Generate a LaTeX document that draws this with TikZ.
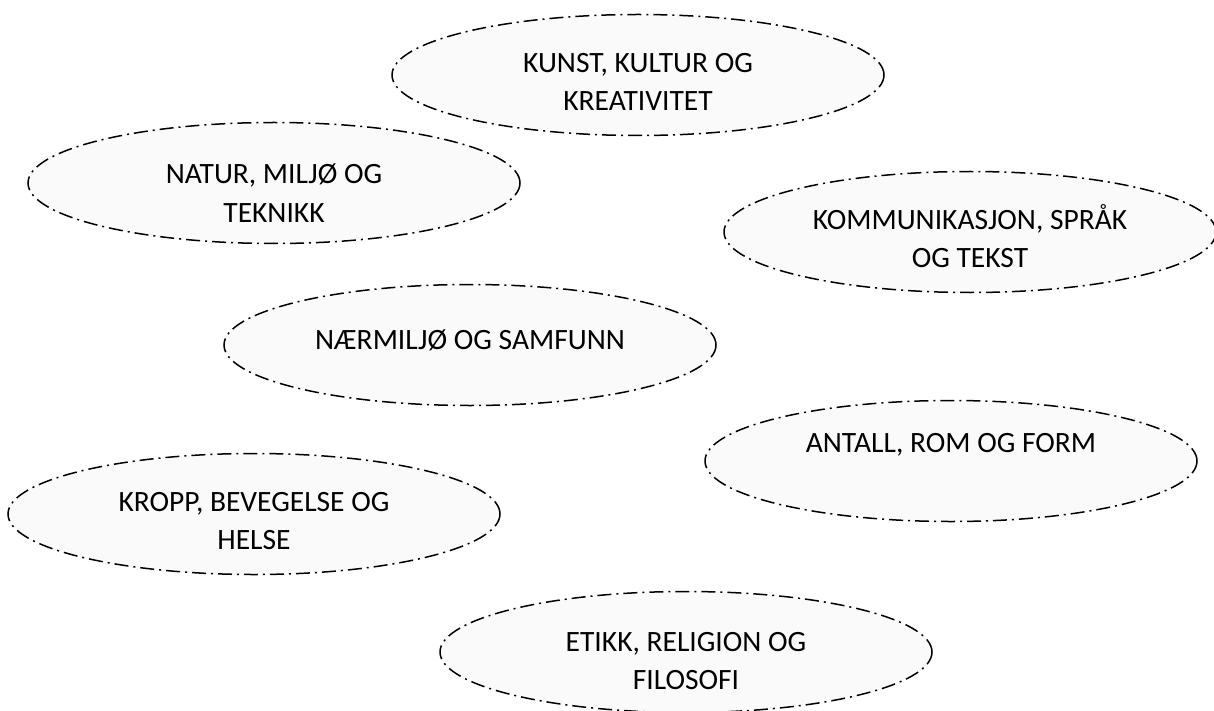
\documentclass[tikz,border=0pt]{standalone}
\usepackage{fontspec}
\setmainfont{Carlito}
\usetikzlibrary{shapes.geometric}
\begin{document}
\begin{tikzpicture}[x=1pt,y=-1pt,
  area/.style={ellipse, draw=black, fill=black!2, line width=1.5pt,
    dash pattern=on 14pt off 5pt on 2pt off 5pt,
    minimum width=492pt, minimum height=121pt, inner sep=0pt},
  lbl/.style={align=center, inner sep=0pt, text=black,
    font=\fontsize{29.5}{38.5}\selectfont}]
\useasboundingbox (0,0) rectangle (1214,711);
\node[area] (kunst) at (638,75) {};
\node[area] (natur) at (274,183) {};
\node[area] (komm) at (970,232) {};
\node[area] (naer) at (470,345) {};
\node[area] (antall) at (951,461) {};
\node[area] (kropp) at (254,514) {};
\node[area] (etikk) at (686,652) {};
\node[lbl] (tkunst) at ([yshift=-7pt]kunst.center) {KUNST, KULTUR OG\\KREATIVITET};
\node[lbl] (tnatur) at ([yshift=-10pt]natur.center) {NATUR, MILJØ OG\\TEKNIKK};
\node[lbl] (tkomm) at ([yshift=-4pt]komm.center) {KOMMUNIKASJON, SPRÅK\\OG TEKST};
\node[lbl] (tnaer) at ([yshift=5pt]naer.center) {NÆRMILJØ OG SAMFUNN};
\node[lbl] (tantall) at ([yshift=16pt]antall.center) {ANTALL, ROM OG FORM};
\node[lbl] (tkropp) at ([yshift=-7pt]kropp.center) {KROPP, BEVEGELSE OG\\HELSE};
\node[lbl] (tetikk) at ([yshift=-9pt]etikk.center) {ETIKK, RELIGION OG\\FILOSOFI};
\end{tikzpicture}
\end{document}
